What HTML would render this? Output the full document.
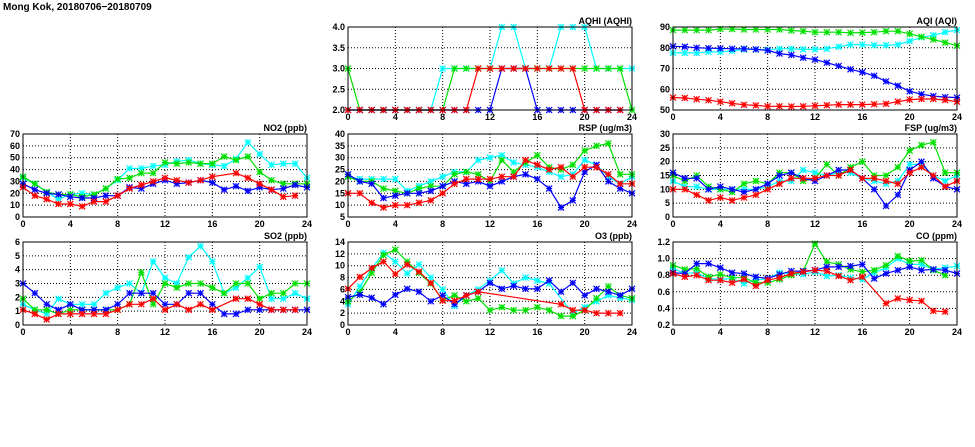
<!DOCTYPE html>
<html><head><meta charset="utf-8"><style>
html,body{margin:0;padding:0;background:#fff;}
svg{display:block;}
text{font-family:"Liberation Sans",sans-serif;font-weight:bold;font-size:9px;fill:#000;}
</style></head><body>
<svg id="s" width="975" height="447" xmlns="http://www.w3.org/2000/svg">
<text x="3" y="10" style="font-size:10px">Mong Kok, 20180706−20180709</text>
</svg>
<script>
var N=null;
var P=[
{t:"AQHI (AQHI)",x:348,y:27,min:2,max:4,step:0.5,fmt:1,d:{
c:[2,2,2,2,2,2,2,2,3,3,3,3,3,4,4,3,3,3,4,4,4,3,3,3,3],
g:[3,2,2,2,2,2,2,2,2,3,3,3,3,3,3,3,3,3,3,3,3,3,3,3,2],
b:[2,2,2,2,2,2,2,2,2,2,2,2,2,3,3,3,2,2,2,2,2,2,2,2,N],
r:[2,2,2,2,2,2,2,2,2,2,2,3,3,3,3,3,3,3,3,3,2,2,2,2,N]}},
{t:"AQI (AQI)",x:673,y:27,min:50,max:90,step:10,fmt:0,d:{
g:[88.5,88.5,88.5,88.5,89,89,88.8,88.8,88.8,88.8,88.3,88,87.5,87.5,87.5,87.2,87.3,87.5,88,88,86.7,85.3,84,82.5,81],
c:[77.5,77.5,77.5,78,78,78.5,79.2,79.2,79,79.5,79.5,79.2,79.2,79.5,80.5,81.5,81.5,81.2,81.2,81.5,83.2,85,86,87.5,88.5],
b:[80.7,80.5,80,79.8,79.7,79.5,79.5,79.2,78.7,77.2,76.5,75.2,74.3,72.8,71.2,69.6,68.2,66.5,63.8,61.7,59,57.6,56.7,56.2,56],
r:[56,55.8,55.2,54.7,54,53.2,52.5,52.2,51.8,51.8,51.7,51.8,52,52.3,52.6,52.6,52.6,52.8,53,54,55,55.3,55.3,54.8,54]}},
{t:"NO2 (ppb)",x:23,y:134,min:0,max:70,step:10,fmt:0,d:{
c:[33,28,21,15,19,20,19,24,31,41,41,43,44,47,48,45,44,43,49,63,53,44,45,45,33],
g:[34,28,21,19,19,17,19,24,32,33,37,37,46,45,46,45,45,51,48,51,38,31,28,28,28],
b:[28,23,20,19,17,16,16,18,18,25,24,28,31,28,29,31,29,23,26,22,25,23,24,27,25],
r:[25,18,15,11,11,9,13,13,18,24,27,30,33,31,29,31,34,N,37,33,28,23,17,18,N]}},
{t:"RSP (ug/m3)",x:348,y:134,min:5,max:40,step:5,fmt:0,d:{
c:[22,21,21,21,21,16,18,20,22,24,24,29,30,31,28,27,26,24,22,23,29,27,22,19,22],
g:[22,20,20,17,16,15,17,18,18,23,24,23,20,29,24,28,31,26,25,27,33,35,36,23,23],
b:[23,20,19,13,14,15,15,16,18,20,19,20,18,20,22,23,21,17,9,12,24,27,20,17,15],
r:[15,15,11,9,10,10,11,12,15,19,21,21,21,22,22,29,27,25,26,22,26,26,23,19,19]}},
{t:"FSP (ug/m3)",x:673,y:134,min:0,max:30,step:5,fmt:0,d:{
g:[15,13,15,11,10,9,12,13,12,16,16,13,14,19,15,18,20,15,15,18,24,26,27,16,16],
c:[13,11,11,10,10,10,10,10,11,13,13,17,16,15,16,16,14,13,12,13,19,19,15,13,15],
b:[16,14,14,10,11,10,9,10,12,15,16,14,13,15,17,17,14,10,4,8,17,20,14,11,10],
r:[10,10,8,6,7,6,7,8,10,12,14,14,14,15,15,17,14,14,13,12,16,18,15,11,13]}},
{t:"SO2 (ppb)",x:23,y:242,min:0,max:6,step:1,fmt:0,d:{
c:[1.5,1.1,0.8,1.9,1.5,1.5,1.5,2.3,2.7,3.0,2.3,4.6,3.4,3.0,4.9,5.7,4.6,2.3,2.7,3.4,4.2,1.9,1.9,2.3,1.9],
g:[1.9,1.1,1.1,0.8,1.1,1.1,1.1,1.1,1.1,1.5,3.8,1.5,3.0,2.7,3.0,3.0,2.7,2.3,3.0,3.0,1.9,2.3,2.3,3.0,3.0],
b:[3.0,2.3,1.5,1.1,1.5,1.1,1.1,1.1,1.5,2.3,2.3,2.3,1.5,1.5,2.3,2.3,1.5,0.8,0.8,1.1,1.1,1.1,1.1,1.1,1.1],
r:[1.1,0.8,0.4,0.8,0.8,0.8,0.8,0.8,1.1,1.5,1.5,1.9,1.1,1.5,1.1,1.5,1.1,N,1.9,1.9,1.5,1.1,1.1,1.1,N]}},
{t:"O3 (ppb)",x:348,y:242,min:0,max:14,step:2,fmt:0,d:{
c:[3.5,6.5,9.5,12.2,10.7,8.7,10.2,8,6,3.2,5,6,7.5,9.2,7,8,7.5,7,N,2,3,4,5,4.6,4.2],
g:[4,5.5,8.8,11.8,12.7,10.7,8.8,7,4.2,5,4,4.5,2.5,3,2.5,2.5,3,2.5,1.5,1.5,2.5,4.5,6.5,5,4.5],
b:[4.7,5.1,4.6,3.5,5.1,6.1,5.6,4,5,3.5,5,5.6,7.1,6.1,6.6,6.1,6.1,7.5,5.6,7.1,5,6.1,5.6,5,6.1],
r:[6.1,8.1,9.6,10.7,8.6,10.2,9,7.1,4.1,4.1,5,5.6,N,N,N,N,N,N,3.5,2.5,2.5,2,2,2,N]}},
{t:"CO (ppm)",x:673,y:242,min:0.2,max:1.2,step:0.2,fmt:1,d:{
g:[.92,.87,.88,.78,.81,.77,.77,.71,.71,.75,.8,.85,1.18,.96,.93,.87,.84,.86,.92,1.03,.97,.98,.86,.8,N],
c:[.88,.82,.83,.76,.75,.76,.7,.74,.76,.83,.82,.81,.84,.79,.8,.77,.75,.83,.89,1.0,.93,.93,.87,.89,.91],
b:[.83,.82,.94,.94,.89,.83,.82,.78,.76,.81,.85,.85,.86,.9,.9,.91,.93,.76,.82,.86,.9,.86,.87,.86,.82],
r:[.82,.78,.8,.74,.74,.71,.75,.67,.74,.77,.82,.84,.86,.85,.79,.74,.78,N,.46,.52,.5,.49,.37,.36,N]}}
];
var col={c:"#00ffff",g:"#00e000",b:"#0000ff",r:"#ff0000"};
var W=284,H=83,o="";
P.forEach(function(p){
 var X=function(i){return p.x+i*W/24},Y=function(v){return p.y+H-(v-p.min)/(p.max-p.min)*H};
 for(var i=4;i<24;i+=4)o+='<line x1="'+X(i)+'" y1="'+p.y+'" x2="'+X(i)+'" y2="'+(p.y+H)+'" stroke="#000" stroke-width="1" stroke-dasharray="1,2"/>';
 var n=Math.round((p.max-p.min)/p.step);
 for(var k=0;k<=n;k++){var v=p.min+k*p.step,y=Y(v);
  if(k>0&&k<n)o+='<line x1="'+p.x+'" y1="'+y+'" x2="'+(p.x+W)+'" y2="'+y+'" stroke="#000" stroke-width="1" stroke-dasharray="1,2"/>';
  o+='<text x="'+(p.x-3)+'" y="'+(y+3)+'" text-anchor="end">'+v.toFixed(p.fmt)+'</text>';}
 for(var i=0;i<=24;i+=4)o+='<text x="'+X(i)+'" y="'+(p.y+H+10)+'" text-anchor="middle">'+i+'</text>';
 o+='<text x="'+(p.x+W)+'" y="'+(p.y-3)+'" text-anchor="end">'+p.t+'</text>';
 ["c","g","b","r"].forEach(function(s){
  var a=p.d[s],pts=[];a.forEach(function(v,i){if(v!==N)pts.push([X(i),Y(v)])});
  o+='<polyline fill="none" stroke="'+col[s]+'" stroke-width="1.2" points="'+pts.map(function(q){return q[0].toFixed(1)+','+q[1].toFixed(1)}).join(' ')+'"/>';
  pts.forEach(function(q){var x=q[0],y=q[1],r=3;
   o+='<path d="M'+(x-r)+' '+(y-r)+'L'+(x+r)+' '+(y+r)+'M'+(x-r)+' '+(y+r)+'L'+(x+r)+' '+(y-r)+'M'+(x-r)+' '+y+'L'+(x+r)+' '+y+'M'+x+' '+(y-r)+'L'+x+' '+(y+r)+'" stroke="'+col[s]+'" stroke-width="1.2"/>';});
 });
 o+='<rect x="'+p.x+'" y="'+p.y+'" width="'+W+'" height="'+H+'" fill="none" stroke="#000" stroke-width="1"/>';
});
document.getElementById("s").insertAdjacentHTML("beforeend",o);
</script>
</body></html>
